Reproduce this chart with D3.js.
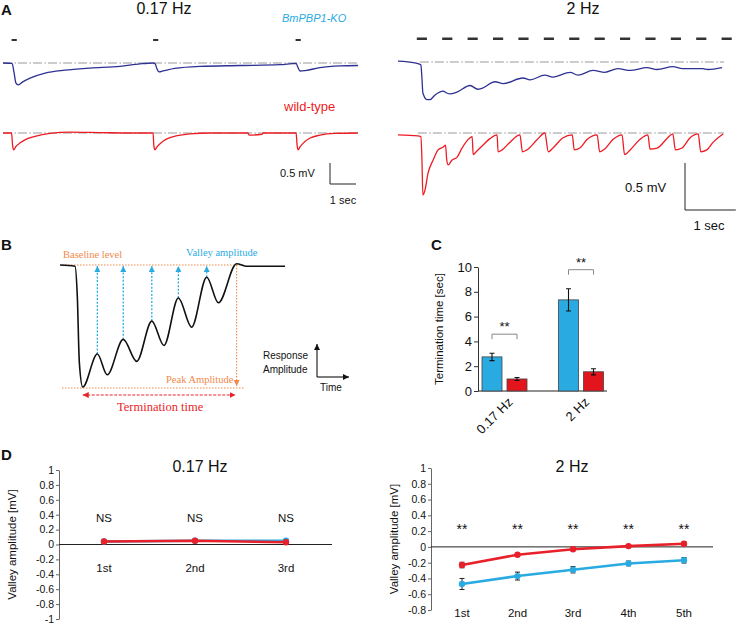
<!DOCTYPE html>
<html><head><meta charset="utf-8">
<script src="https://cdn.jsdelivr.net/npm/d3@7"></script>
<style>body{margin:0;background:#fff} svg{display:block} text{font-family:"Liberation Sans",Arial,sans-serif}</style>
</head><body><svg id="c" width="736" height="626"></svg>
<script>
// ---------------- Panel A data ----------------
const stimSlow = [0.33, 5.77, 11.25];                 // stimulus onsets (s), 0.17 Hz
const stimFast = [0.37,0.87,1.37,1.87,2.37,2.87,3.37,3.87,4.37,4.87,5.37,5.87,6.37]; // 2 Hz
const stimDur = 0.2;
// BmPBP1-KO, 0.17 Hz
const koSlowT = [0,0.35,0.42,0.5,0.58,0.73,1.04,1.62,2.38,3.35,4.5,5.27,5.77,5.85,5.92,6.0,6.15,6.6,7.58,9.12,10.65,11.27,11.35,11.42,11.62,12.19,12.96,13.65];
const koSlowV = [0,-0.01,-0.21,-0.48,-0.52,-0.46,-0.36,-0.24,-0.17,-0.12,-0.08,-0.02,0,-0.02,-0.14,-0.21,-0.19,-0.13,-0.08,-0.06,-0.04,-0.01,-0.12,-0.19,-0.18,-0.11,-0.07,-0.06];
// wild-type, 0.17 Hz
const wtSlowT = [0,0.33,0.37,0.41,0.5,0.65,0.88,1.23,1.81,2.58,3.73,4.88,5.77,5.8,5.84,5.92,6.08,6.3,6.65,7.19,7.96,9.42,9.46,9.96,10.0,11.27,11.31,11.35,11.42,11.58,11.81,12.19,12.77,13.65];
const wtSlowV = [0,0,-0.3,-0.4,-0.32,-0.24,-0.15,-0.08,-0.01,0.02,0.01,0,0,-0.3,-0.4,-0.33,-0.23,-0.14,-0.07,-0.02,0,0,-0.05,-0.03,0,0,-0.3,-0.4,-0.33,-0.22,-0.12,-0.05,-0.01,0];
// BmPBP1-KO, 2 Hz
const koFastT = [0,0.33,0.45,0.47,0.49,0.57,0.63,0.73,0.89,0.96,1.02,1.16,1.42,1.57,1.65,1.91,2.07,2.46,2.6,2.89,3.05,3.39,3.54,3.84,4.07,4.33,4.57,4.9,5.1,5.41,5.6,6.0,6.1,6.38];
const koFastV = [0.01,-0.01,-0.03,-0.16,-0.33,-0.40,-0.40,-0.35,-0.31,-0.33,-0.34,-0.32,-0.25,-0.29,-0.28,-0.21,-0.23,-0.17,-0.19,-0.14,-0.16,-0.11,-0.14,-0.09,-0.11,-0.07,-0.09,-0.06,-0.08,-0.05,-0.07,-0.07,-0.08,-0.06];
// wild-type, 2 Hz
const wtFastT = [0,0.39,0.45,0.47,0.49,0.53,0.59,0.69,0.79,0.89,0.935,0.96,0.99,1.06,1.16,1.26,1.42,1.46,1.48,1.54,1.67,1.81,1.95,1.97,2.05,2.2,2.4,2.45,2.54,2.74,2.89,2.96,3.05,3.25,3.43,3.47,3.58,3.72,3.92,3.97,4.07,4.23,4.41,4.46,4.57,4.76,4.92,4.96,5.1,5.31,5.41,5.46,5.59,5.75,5.91,5.96,6.08,6.2,6.4];
const wtFastV = [-0.02,-0.03,-0.04,-0.26,-0.66,-0.61,-0.43,-0.29,-0.18,-0.15,-0.13,-0.29,-0.34,-0.29,-0.26,-0.16,-0.05,-0.04,-0.23,-0.2,-0.13,-0.06,-0.02,-0.2,-0.18,-0.1,-0.02,-0.2,-0.18,-0.07,0,-0.2,-0.16,-0.05,-0.02,-0.18,-0.16,-0.07,-0.02,-0.2,-0.17,-0.07,-0.02,-0.23,-0.18,-0.07,-0.02,-0.17,-0.16,-0.05,-0.01,-0.18,-0.16,-0.05,-0.01,-0.2,-0.18,-0.1,-0.01];

// ---------------- Panel B data (schematic, arbitrary units) ----------------
const schemT = [0,6.67,7.7,8.6,10.1,16.6,21.0,28.1,34.1,40.8,46.2,52.6,58.5,65.2,70.4,78.5,83.0,88.9,100];
const schemV = [0,-0.01,-0.26,-0.8,-1.0,-0.73,-0.9,-0.61,-0.79,-0.46,-0.66,-0.27,-0.51,-0.1,-0.31,0.01,-0.01,-0.01,-0.01];
const valleyT = [16.6,28.1,40.8,52.6,65.2];
const valleyV = [-0.73,-0.61,-0.46,-0.27,-0.1];
const peakT = 10.1, endT = 78.5;

// ---------------- Panel C data ----------------
const freqs = ["0.17 Hz","2 Hz"];
const koTerm = [2.75, 7.35], koTermErr = [0.3, 0.9];
const wtTerm = [0.97, 1.55], wtTermErr = [0.12, 0.25];
const termTicks = [0,2,4,6,8,10];
const termSig = ["**","**"];

// ---------------- Panel D data ----------------
const valleysSlow = ["1st","2nd","3rd"];
const koValSlow = [0.04,0.05,0.05], koValSlowErr = [0.01,0.01,0.01];
const wtValSlow = [0.04,0.05,0.03], wtValSlowErr = [0.01,0.01,0.01];
const sigSlow = ["NS","NS","NS"];
const valleysFast = ["1st","2nd","3rd","4th","5th"];
const koValFast = [-0.47,-0.37,-0.29,-0.21,-0.17], koValFastErr = [0.07,0.05,0.04,0.03,0.035];
const wtValFast = [-0.23,-0.1,-0.03,0.01,0.04], wtValFastErr = [0.035,0.015,0.015,0.015,0.02];
const sigFast = ["**","**","**","**","**"];

// ---------------- colours ----------------
const NAVY="#2e3192", RED="#ed1c24", CYAN="#29abe2", ORANGE="#f0894a", GREY="#9a9a9a";

const svg = d3.select("#c");
svg.append("rect").attr("width",736).attr("height",626).attr("fill","#fff");
const defs = svg.append("defs");
function mk(id,color,size){
  defs.append("marker").attr("id",id).attr("viewBox","0 0 10 10").attr("refX",10).attr("refY",5)
    .attr("markerWidth",size).attr("markerHeight",size).attr("markerUnits","userSpaceOnUse")
    .attr("orient","auto-start-reverse").append("path").attr("d","M0,0L10,5L0,10z").attr("fill",color);
}
mk("aCyan",CYAN,6); mk("aOrange",ORANGE,6); mk("aRed","#e8252a",6); mk("aBlack","#111",6);

function label(t,x,y,opt={}){
  const e = svg.append("text").attr("x",x).attr("y",y).text(t)
    .attr("font-size",opt.size||12).attr("fill",opt.fill||"#111");
  if(opt.anchor) e.attr("text-anchor",opt.anchor);
  if(opt.weight) e.attr("font-weight",opt.weight);
  if(opt.style) e.attr("font-style",opt.style);
  if(opt.family) e.style("font-family",opt.family);
  if(opt.rot!=null) e.attr("transform",`rotate(${opt.rot},${x},${y})`);
  return e;
}
const zip = (T,V)=>T.map((t,i)=>[t,V[i]]);
function trace(T,V,x,y,color,w){
  svg.append("path").datum(zip(T,V))
    .attr("d",d3.line().x(d=>x(d[0])).y(d=>y(d[1])).curve(d3.curveMonotoneX))
    .attr("fill","none").attr("stroke",color).attr("stroke-width",w||1.3).attr("stroke-linejoin","round");
}
function dashdot(x0,x1,y){
  svg.append("line").attr("x1",x0).attr("x2",x1).attr("y1",y).attr("y2",y)
    .attr("stroke",GREY).attr("stroke-width",1.2).attr("stroke-dasharray","9,2.5,1.5,2");
}

// ================= Panel A =================
label("A",1,15,{size:15,weight:"bold"});
label("0.17 Hz",164,14,{size:16,anchor:"middle"});
label("2 Hz",583,14,{size:16,anchor:"middle"});
label("BmPBP1-KO",282,22,{size:11,fill:CYAN,style:"italic"});
label("wild-type",284,111,{size:13,fill:RED});

// left (0.17 Hz)
const xA1 = d3.scaleLinear().domain([0,13.65]).range([3,358]);
const yA1ko = d3.scaleLinear().domain([-1,0]).range([105,63]);
const yA1wt = d3.scaleLinear().domain([-1,0]).range([175,133]);
svg.selectAll(".s1").data(stimSlow).join("rect")
  .attr("x",d=>xA1(d)).attr("width",d=>xA1(d+stimDur)-xA1(d)).attr("y",39).attr("height",2).attr("fill","#333");
dashdot(xA1(0),xA1(13.65),yA1ko(0));
dashdot(xA1(0),xA1(13.65),yA1wt(0));
trace(koSlowT,koSlowV,xA1,yA1ko,NAVY);
trace(wtSlowT,wtSlowV,xA1,yA1wt,RED);
{
  const bx=330, by=184;
  const h = yA1wt(-0.5)-yA1wt(0), w = xA1(1)-xA1(0);
  svg.append("path").attr("d",`M${bx},${by-h}V${by}H${bx+w}`).attr("fill","none").attr("stroke","#222").attr("stroke-width",1);
  label("0.5 mV",280,177,{size:11});
  label("1 sec",343,204,{size:11,anchor:"middle"});
}

// right (2 Hz)
const xA2 = d3.scaleLinear().domain([0,6.5]).range([398,398+6.5*50.8]);
const yA2ko = d3.scaleLinear().domain([-1,0]).range([156,62]);
const yA2wt = d3.scaleLinear().domain([-1,0]).range([227,133]);
svg.selectAll(".s2").data(stimFast).join("rect")
  .attr("x",d=>xA2(d)).attr("width",d=>xA2(d+stimDur)-xA2(d)).attr("y",37.5).attr("height",2.5).attr("fill","#333");
dashdot(xA2(0.43),xA2(6.42),yA2ko(0));
dashdot(xA2(0.39),xA2(6.42),yA2wt(0));
trace(koFastT,koFastV,xA2,yA2ko,NAVY);
trace(wtFastT,wtFastV,xA2,yA2wt,RED);
{
  const bx=685, by=210;
  const h = yA2wt(-0.5)-yA2wt(0), w = xA2(1)-xA2(0);
  svg.append("path").attr("d",`M${bx},${by-h}V${by}H${bx+w}`).attr("fill","none").attr("stroke","#222").attr("stroke-width",1);
  label("0.5 mV",625,192,{size:13});
  label("1 sec",709,230,{size:13,anchor:"middle"});
}

// ================= Panel B =================
label("B",1,250,{size:15,weight:"bold"});
const xB = d3.scaleLinear().domain([0,100]).range([60,285]);
const yB = d3.scaleLinear().domain([-1,0]).range([387,265]);
svg.append("line").attr("x1",62).attr("x2",245).attr("y1",yB(0)).attr("y2",yB(0))
  .attr("stroke",ORANGE).attr("stroke-width",1.1).attr("stroke-dasharray","1.5,1.5");
svg.append("line").attr("x1",62).attr("x2",245).attr("y1",yB(-1)+1).attr("y2",yB(-1)+1)
  .attr("stroke",ORANGE).attr("stroke-width",1.1).attr("stroke-dasharray","1.5,1.5");
svg.append("line").attr("x1",xB(endT)).attr("x2",xB(endT)).attr("y1",yB(0)).attr("y2",yB(-1)-1)
  .attr("stroke",ORANGE).attr("stroke-width",1.1).attr("stroke-dasharray","1.5,1.5").attr("marker-end","url(#aOrange)");
valleyT.forEach((t,i)=>{
  svg.append("line").attr("x1",xB(t)).attr("x2",xB(t)).attr("y1",yB(valleyV[i])).attr("y2",yB(0)+1)
    .attr("stroke",CYAN).attr("stroke-width",1.3).attr("stroke-dasharray","2,1.6").attr("marker-end","url(#aCyan)");
});
trace(schemT,schemV,xB,yB,"#111",1.6);
svg.append("line").attr("x1",xB(peakT)).attr("x2",xB(endT)-1).attr("y1",395).attr("y2",395)
  .attr("stroke","#e8252a").attr("stroke-width",1.1).attr("stroke-dasharray","3,1.5")
  .attr("marker-start","url(#aRed)").attr("marker-end","url(#aRed)");
const serif = "'Liberation Serif','Times New Roman',serif";
label("Baseline level",63,258,{size:10.5,fill:ORANGE,family:serif});
label("Valley amplitude",186,256,{size:10.5,fill:CYAN,family:serif});
label("Peak Amplitude",166,383,{size:10.5,fill:ORANGE,family:serif});
label("Termination time",117,411,{size:12.5,fill:"#e8252a",family:serif});
label("Response",263,359,{size:10});
label("Amplitude",263,373,{size:10});
svg.append("line").attr("x1",317).attr("x2",317).attr("y1",377).attr("y2",344).attr("stroke","#111").attr("stroke-width",1.1).attr("marker-end","url(#aBlack)");
svg.append("line").attr("x1",317).attr("x2",349).attr("y1",377).attr("y2",377).attr("stroke","#111").attr("stroke-width",1.1).attr("marker-end","url(#aBlack)");
label("Time",320,391,{size:10});

// ================= Panel C =================
label("C",431,250,{size:15,weight:"bold"});
const yC = d3.scaleLinear().domain([0,10]).range([391,267]);
const x0C = d3.scaleBand().domain(freqs).range([466.25,619.25]);
const x1C = d3.scaleBand().domain(["KO","WT"]).range([13.25,63.25]).paddingInner(0.2).paddingOuter(0.1);
const gAxC = svg.append("g").attr("transform","translate(478,0)")
  .call(d3.axisLeft(yC).tickValues(termTicks).tickSize(4).tickSizeOuter(0).tickFormat(d3.format("d")));
gAxC.selectAll("text").attr("font-size",13).attr("fill","#111").attr("x",-6);
gAxC.select(".domain").attr("stroke","#333");
gAxC.selectAll(".tick line").attr("stroke","#333");
svg.append("line").attr("x1",478).attr("x2",607).attr("y1",391).attr("y2",391).attr("stroke","#222");
const barsC = [];
freqs.forEach((f,i)=>{
  barsC.push({f,k:"KO",v:koTerm[i],e:koTermErr[i],c:CYAN});
  barsC.push({f,k:"WT",v:wtTerm[i],e:wtTermErr[i],c:"#e3151c"});
});
svg.selectAll(".barC").data(barsC).join("rect")
  .attr("x",d=>x0C(d.f)+x1C(d.k)).attr("width",x1C.bandwidth())
  .attr("y",d=>yC(d.v)).attr("height",d=>yC(0)-yC(d.v))
  .attr("fill",d=>d.c).attr("stroke","#444").attr("stroke-width",0.8);
barsC.forEach(d=>{
  const cx = x0C(d.f)+x1C(d.k)+x1C.bandwidth()/2;
  svg.append("path").attr("d",`M${cx},${yC(d.v+d.e)}V${yC(d.v-d.e)}M${cx-2.5},${yC(d.v+d.e)}H${cx+2.5}M${cx-2.5},${yC(d.v-d.e)}H${cx+2.5}`)
    .attr("stroke","#111").attr("stroke-width",1.1).attr("fill","none");
});
freqs.forEach((f,i)=>{
  const xa = x0C(f)+x1C("KO")+x1C.bandwidth()/2, xb = x0C(f)+x1C("WT")+x1C.bandwidth()/2;
  const top = Math.max(koTerm[i]+koTermErr[i], wtTerm[i]+wtTermErr[i]);
  const yb = yC(top)-19;
  svg.append("path").attr("d",`M${xa},${yb+5}V${yb}H${xb}V${yb+5}`).attr("fill","none").attr("stroke","#888").attr("stroke-width",1);
  label(termSig[i],(xa+xb)/2,yb-3,{size:13,anchor:"middle"});
  const lx = x0C(f)+x0C.bandwidth()/2+9;
  label(f,lx,403,{size:13,anchor:"end",rot:-45});
});
label("Termination time [sec]",443,329,{size:11.5,anchor:"middle",rot:-90});

// ================= Panel D =================
label("D",1,460,{size:15,weight:"bold"});
function lineChart(cats,ko,koE,wt,wtE,sig,xr,y0,y1,dom,ticks,axisX,zeroEnd,title,titleX,ylabX,catY){
  const x = d3.scalePoint().domain(cats).range(xr);
  const y = d3.scaleLinear().domain(dom).range([y0,y1]);
  const g = svg.append("g").attr("transform",`translate(${axisX},0)`)
    .call(d3.axisLeft(y).tickValues(ticks).tickSize(3).tickSizeOuter(0).tickFormat(d=>String(+d.toFixed(1))));
  g.selectAll("text").attr("font-size",10.5).attr("fill","#111").attr("x",-5);
  g.select(".domain").attr("stroke","#666");
  g.selectAll(".tick line").attr("stroke","#666");
  svg.append("line").attr("x1",axisX).attr("x2",zeroEnd).attr("y1",y(0)).attr("y2",y(0)).attr("stroke","#222").attr("stroke-width",1);
  const series = [{v:ko,e:koE,c:CYAN},{v:wt,e:wtE,c:"#e8202a"}];
  series.forEach(s=>{
    svg.append("path").datum(cats.map((c,i)=>[x(c),y(s.v[i])]))
      .attr("d",d3.line()).attr("fill","none").attr("stroke",s.c).attr("stroke-width",2.6);
    cats.forEach((c,i)=>{
      const cx=x(c);
      svg.append("path").attr("d",`M${cx},${y(s.v[i]+s.e[i])}V${y(s.v[i]-s.e[i])}M${cx-2.5},${y(s.v[i]+s.e[i])}H${cx+2.5}M${cx-2.5},${y(s.v[i]-s.e[i])}H${cx+2.5}`)
        .attr("stroke","#222").attr("stroke-width",1).attr("fill","none");
      svg.append("circle").attr("cx",cx).attr("cy",y(s.v[i])).attr("r",3.2).attr("fill",s.c);
    });
  });
  cats.forEach((c,i)=>{
    label(sig[i],x(c),sig[i]==="NS"?522:534,{size:sig[i]==="NS"?11.5:14,anchor:"middle"});
    label(c,x(c),catY,{size:11.5,anchor:"middle"});
  });
  label(title,titleX,472,{size:16,anchor:"middle"});
  label("Valley amplitude [mV]",ylabX,(y0+y1)/2,{size:11.5,anchor:"middle",rot:-90});
}
lineChart(valleysSlow,koValSlow,koValSlowErr,wtValSlow,wtValSlowErr,sigSlow,
  [104,286],619,470,[-1,1],[-1,-0.8,-0.6,-0.4,-0.2,0,0.2,0.4,0.6,0.8,1],59,332,"0.17 Hz",200,16,572);
lineChart(valleysFast,koValFast,koValFastErr,wtValFast,wtValFastErr,sigFast,
  [462,684],610,468,[-0.8,1],[-0.8,-0.6,-0.4,-0.2,0,0.2,0.4,0.6,0.8,1],431,713,"2 Hz",572,398,617);
</script></body></html>
